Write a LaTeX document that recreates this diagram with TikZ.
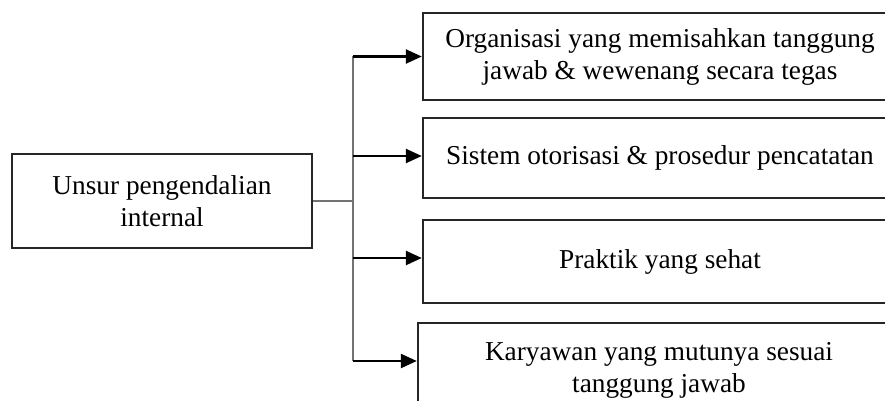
\documentclass[tikz,border=0pt]{standalone}
\usepackage{fontspec}
\setmainfont{Liberation Serif}
\usetikzlibrary{arrows.meta}
\begin{document}
\begin{tikzpicture}[x=1pt,y=-1pt,
  box/.style={draw=black!85,line width=2.4pt,rectangle,align=center,inner sep=0pt,
    font=\fontsize{27.3}{32}\selectfont},
  trunkline/.style={draw=black!55,line width=1.4pt},
  arr/.style={draw=black,line width=2.4pt,-{Triangle[length=16pt,width=14pt]}}]
\useasboundingbox (0,0) rectangle (885,401);
\clip (0,0) rectangle (885,401);
\fill[white] (0,0) rectangle (885,401);
\node[box,minimum width=300pt,minimum height=94pt] (lb) at (162,201)
  {Unsur pengendalian\\internal};
\node[box,minimum width=474pt,minimum height=87pt] (b1) at (660,56.5)
  {Organisasi yang memisahkan tanggung\\jawab \& wewenang secara tegas};
\node[box,minimum width=474pt,minimum height=80pt] (b2) at (660,158)
  {Sistem otorisasi \& prosedur pencatatan};
\node[box,minimum width=474pt,minimum height=83pt] (b3) at (660,261.5)
  {Praktik yang sehat};
\node[box,minimum width=482pt,minimum height=94pt] (b4) at (659,370)
  {Karyawan yang mutunya sesuai\\tanggung jawab};
\coordinate (t1) at (353,56.5);
\coordinate (t2) at (353,156);
\coordinate (t3) at (353,258);
\coordinate (t4) at (353,361);
\coordinate (tm) at (lb.east -| t1);
\draw[trunkline] (lb.east) -- (tm);
\draw[trunkline] (t1) -- (t4);
\draw[arr] (t1) -- (b1.west);
\draw[arr] (t2) -- (t2 -| b2.west);
\draw[arr] (t3) -- (t3 -| b3.west);
\draw[arr] (t4) -- (t4 -| b4.west);
\end{tikzpicture}
\end{document}
